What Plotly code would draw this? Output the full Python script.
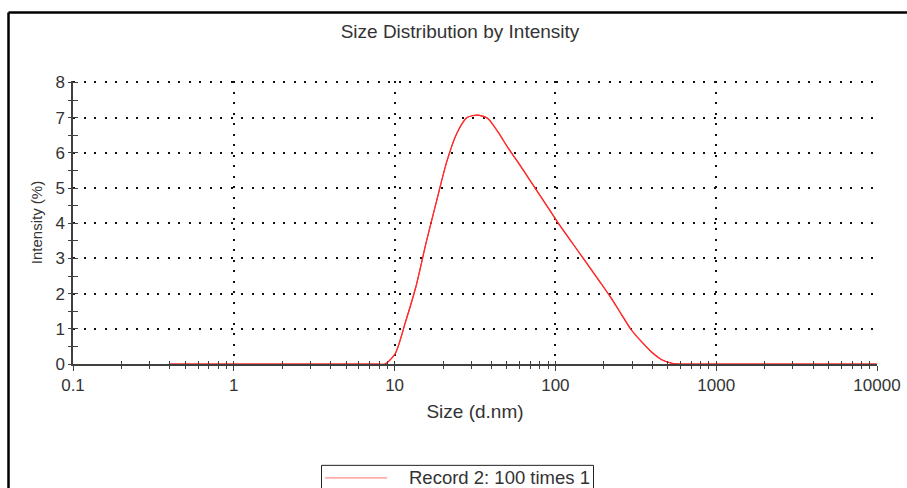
import plotly.graph_objects as go

# Particle size bins (d.nm) and intensity distribution (%)
sizes = [0.4, 0.4632, 0.5365, 0.6213, 0.7195, 0.8332, 0.9649, 1.117, 1.294, 1.499,
         1.736, 2.01, 2.328, 2.696, 3.122, 3.615, 4.187, 4.849, 5.615, 6.503,
         7.531, 8.721, 10.1, 11.7, 13.54, 15.69, 18.17, 21.04, 24.36, 28.21,
         32.67, 37.84, 43.82, 50.75, 58.77, 68.06, 78.82, 91.28, 105.7, 122.4,
         141.8, 164.2, 190.1, 220.2, 255.0, 295.3, 342.0, 396.1, 458.7, 531.2,
         615.1, 712.4, 825.0, 955.4, 1106, 1281, 1484, 1718, 1990, 2305,
         2669, 3091, 3580, 4145, 4801, 5560, 6439, 7456, 8635, 10000]
intensity = [0, 0, 0, 0, 0, 0, 0, 0, 0, 0,
             0, 0, 0, 0, 0, 0, 0, 0, 0, 0,
             0, 0, 0.3, 1.2, 2.18, 3.44, 4.6, 5.73, 6.55, 7.0,
             7.07, 6.98, 6.6, 6.14, 5.72, 5.28, 4.84, 4.4, 3.96, 3.55,
             3.14, 2.73, 2.32, 1.9, 1.44, 0.98, 0.64, 0.34, 0.12, 0.02,
             0, 0, 0, 0, 0, 0, 0, 0, 0, 0,
             0, 0, 0, 0, 0, 0, 0, 0, 0, 0]
series_name = "Record 2: 100 times 1"

title_text = "Size Distribution by Intensity"
x_title = "Size (d.nm)"
y_title = "Intensity (%)"

W, H = 907, 488
Y_TOP = 8.04          # a hair above 8 so the top grid line is kept
L, R, B = 73, 30, 124
T = 82 - (Y_TOP - 8) * (364 - 82) / 8
PW, PH = W - L - R, H - T - B

FONT = "Liberation Sans, Arial, sans-serif"
AXIS = "#404040"
TEXT = "#333333"
CURVE = "rgb(255,45,45)"
DOTS = "2px,8.5px"


def px(xp):
    return (xp - L) / PW


def py(yp):
    return (H - B - yp) / PH


fig = go.Figure()
fig.add_trace(go.Scatter(
    x=sizes, y=intensity, name=series_name, mode="lines",
    line=dict(color=CURVE, width=1.2, shape="spline", smoothing=0.7),
    hoverinfo="x+y",
))
# same curve bound to the overlay axes so their inner tick marks are drawn
fig.add_trace(go.Scatter(
    x=sizes, y=intensity, name=series_name, mode="lines", xaxis="x2", yaxis="y2",
    line=dict(color=CURVE, width=1.2, shape="spline", smoothing=0.7),
    hoverinfo="skip", showlegend=False,
))

x_common = dict(type="log", range=[-1, 4], tickmode="linear", tick0=0, dtick=1,
                tickformat="~r", zeroline=False, automargin=False)
y_common = dict(range=[0, Y_TOP], tickmode="linear", tick0=0, dtick=1,
                zeroline=False, automargin=False)

fig.update_layout(
    width=W, height=H,
    margin=dict(l=L, r=R, t=T, b=B, autoexpand=False),
    paper_bgcolor="white", plot_bgcolor="white",
    showlegend=False,
    font=dict(family=FONT, color=TEXT, size=17),
    title=dict(text=title_text, x=460 / W, xref="container", xanchor="center",
               y=1 - 31 / H, yref="container", yanchor="middle",
               font=dict(size=19, color=TEXT)),
    xaxis=dict(
        **x_common,
        ticks="outside", ticklen=5, tickwidth=1.2, tickcolor=AXIS,
        minor=dict(dtick="D1", ticks="outside", ticklen=3, tickwidth=1.2,
                   tickcolor=AXIS, showgrid=False),
        showline=True, linecolor=AXIS, linewidth=2,
        showgrid=True, gridcolor="#111", gridwidth=2, griddash=DOTS,
        tickfont=dict(size=17, color=TEXT),
        title=dict(text=x_title, standoff=10, font=dict(size=19, color=TEXT)),
    ),
    yaxis=dict(
        **y_common,
        ticks="outside", ticklen=3, tickwidth=1.2, tickcolor=AXIS,
        minor=dict(dtick=0.5, ticks="outside", ticklen=3, tickwidth=1.2,
                   tickcolor=AXIS, showgrid=False),
        showline=True, linecolor=AXIS, linewidth=1.5,
        showgrid=True, gridcolor="#111", gridwidth=2, griddash=DOTS,
        tickfont=dict(size=17, color=TEXT),
        title=dict(text=y_title, standoff=9, font=dict(size=15, color=TEXT)),
    ),
    # overlay axes carry the inner half of the crossing tick marks
    xaxis2=dict(
        **x_common, overlaying="x", anchor="y2", side="bottom",
        showticklabels=False,
        ticks="inside", ticklen=3, tickwidth=1.2, tickcolor=AXIS,
        minor=dict(dtick="D1", ticks="inside", ticklen=3, tickwidth=1.2,
                   tickcolor=AXIS, showgrid=False),
        showgrid=False, showline=False,
    ),
    yaxis2=dict(
        **y_common, overlaying="y", anchor="x2", side="left",
        showticklabels=False,
        ticks="inside", ticklen=5, tickwidth=1.2, tickcolor=AXIS,
        minor=dict(dtick=0.5, ticks="inside", ticklen=5, tickwidth=1.2,
                   tickcolor=AXIS, showgrid=False),
        showgrid=False, showline=False,
    ),
)

# page frame (left and top edges)
fig.add_shape(type="line", xref="paper", yref="paper",
              x0=px(8.5), y0=py(12), x1=px(W + 5), y1=py(12),
              line=dict(color="black", width=2.5))
fig.add_shape(type="line", xref="paper", yref="paper",
              x0=px(8.5), y0=py(12), x1=px(8.5), y1=py(H + 5),
              line=dict(color="black", width=2.5))

# legend box
fig.add_shape(type="rect", xref="paper", yref="paper",
              x0=px(321.5), y0=py(465.5), x1=px(593.5), y1=py(H + 10),
              line=dict(color="#222", width=1), fillcolor="white")
fig.add_shape(type="line", xref="paper", yref="paper",
              x0=px(325), y0=py(478), x1=px(387), y1=py(478),
              line=dict(color="rgb(255,140,140)", width=1.2))
fig.add_annotation(xref="paper", yref="paper", x=px(407), y=py(478),
                   xanchor="left", yanchor="middle", showarrow=False,
                   text=series_name, font=dict(size=18.5, color=TEXT))

fig.write_html("out.html")
